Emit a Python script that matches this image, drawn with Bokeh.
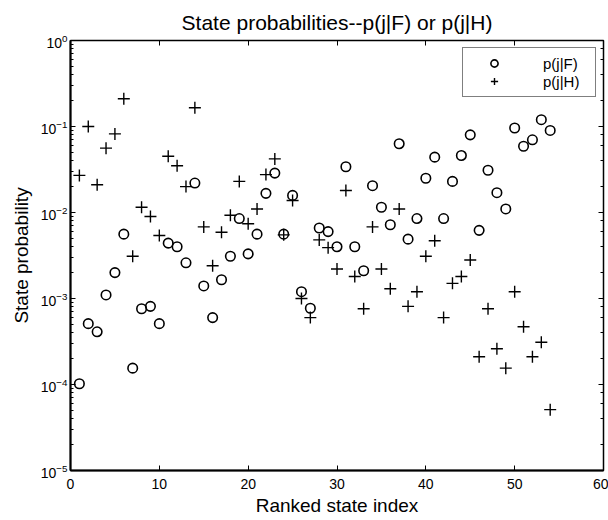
from bokeh.plotting import figure
from bokeh.models import Range1d, LogAxis, LinearAxis, Legend, LegendItem, ColumnDataSource, CustomJSTickFormatter
from bokeh.embed import file_html
from bokeh.resources import INLINE

state_index = list(range(1, 55))
p_F = [0.000102, 0.00051, 0.00041, 0.0011, 0.0020, 0.0056, 0.000155, 0.00076, 0.00081, 0.00051,
       0.0044, 0.0040, 0.0026, 0.022, 0.0014, 0.0006, 0.00165, 0.0031, 0.0085, 0.0033,
       0.0056, 0.0167, 0.0287, 0.0056, 0.0158, 0.0012, 0.00077, 0.0066, 0.0060, 0.0040,
       0.034, 0.0040, 0.0021, 0.0205, 0.0115, 0.0072, 0.063, 0.0049, 0.0085, 0.025,
       0.044, 0.0085, 0.023, 0.046, 0.080, 0.0062, 0.031, 0.017, 0.011, 0.096,
       0.059, 0.070, 0.12, 0.090]
p_H = [0.027, 0.10, 0.021, 0.056, 0.082, 0.21, 0.0031, 0.0115, 0.0090, 0.0054,
       0.045, 0.035, 0.020, 0.165, 0.0068, 0.0024, 0.0059, 0.0093, 0.023, 0.0074,
       0.011, 0.0276, 0.042, 0.0055, 0.0138, 0.0010, 0.0006, 0.0048, 0.0039, 0.0022,
       0.018, 0.0018, 0.00076, 0.0068, 0.0022, 0.0013, 0.011, 0.00081, 0.0012, 0.0031,
       0.0047, 0.0006, 0.0015, 0.0018, 0.0028, 0.00021, 0.00076, 0.00026, 0.000155, 0.0012,
       0.00047, 0.00021, 0.00031, 0.000051]
x_ticks = [0, 10, 20, 30, 40, 50, 60]

FONT = "Liberation Sans"

p = figure(width=608, height=520, output_backend="svg", toolbar_location=None,
           y_axis_type="log", x_range=Range1d(0, 60), y_range=Range1d(1e-5, 1),
           min_border_left=70, min_border_right=5, min_border_top=40, min_border_bottom=50)

p.title.text = "State probabilities--p(j|F) or p(j|H)"
p.title.align = "center"
p.title.text_font = FONT
p.title.text_font_size = "21px"
p.title.text_font_style = "normal"
p.title.text_color = "black"
p.title.standoff = 13

p.xgrid.visible = False
p.ygrid.visible = False
p.outline_line_color = "black"
p.outline_line_width = 1.5

for ax in [p.xaxis[0], p.yaxis[0]]:
    ax.major_tick_in = 5
    ax.major_tick_out = 0
    ax.minor_tick_in = 3
    ax.minor_tick_out = 0
    ax.axis_line_color = "black"
    ax.axis_line_width = 2
    ax.major_label_text_font = FONT
    ax.major_label_text_font_size = "14px"
    ax.major_label_text_color = "black"
    ax.axis_label_text_font = FONT
    ax.axis_label_text_font_size = "19px"
    ax.axis_label_text_font_style = "normal"
    ax.axis_label_text_color = "black"

p.xaxis[0].ticker = x_ticks
p.xaxis[0].minor_tick_line_color = None
p.xaxis[0].axis_label = "Ranked state index"
p.xaxis[0].axis_label_standoff = 3
p.xaxis[0].major_label_standoff = 8
p.yaxis[0].axis_label = "State probability"
p.yaxis[0].axis_label_standoff = 6
p.yaxis[0].major_label_standoff = 3

top = LinearAxis(ticker=x_ticks, major_tick_in=5, major_tick_out=0,
                 minor_tick_line_color=None, formatter=CustomJSTickFormatter(code="return ' ';"),
                 major_label_text_font_size="2px", major_label_text_color=None,
                 major_label_standoff=0, axis_line_color=None)
p.add_layout(top, "above")
right = LogAxis(major_tick_in=5, major_tick_out=0, minor_tick_in=3, minor_tick_out=0,
                formatter=CustomJSTickFormatter(code="return ' ';"),
                major_label_text_font_size="2px", major_label_text_color=None,
                major_label_standoff=0, axis_line_color=None)
p.add_layout(right, "right")

src = ColumnDataSource(dict(x=state_index, f=p_F, h=p_H))
rc = p.scatter("x", "f", source=src, marker="circle", size=9.5, fill_color=None,
               line_color="black", line_width=1.6)
rh = p.scatter("x", "h", source=src, marker="cross", size=12,
               line_color="black", line_width=1.4)

legend = Legend(items=[LegendItem(label="p(j|F)", renderers=[rc]),
                       LegendItem(label="p(j|H)", renderers=[rh])],
                location="top_right", padding=6, spacing=0, margin=7,
                glyph_width=50, glyph_height=18, label_standoff=24, label_height=18,
                label_width=46, label_text_font=FONT, label_text_font_size="15px",
                label_text_color="black",
                border_line_color="black", border_line_width=1.5,
                background_fill_alpha=1)
p.add_layout(legend, "center")

open("out.html", "w").write(file_html(p, INLINE))
